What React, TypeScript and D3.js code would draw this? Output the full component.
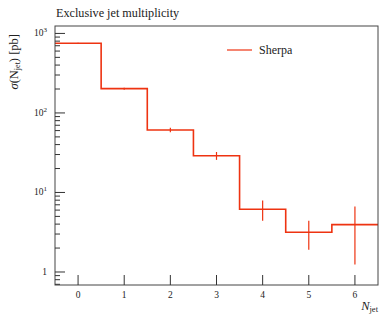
import React from "react";
import * as d3 from "d3";

const binCenters = [0, 1, 2, 3, 4, 5, 6];
const sigmaValues = [753, 202, 61, 29.0, 6.15, 3.16, 3.94];
const sigmaErrors = [12, 6, 4, 3.3, 1.75, 1.25, 2.7];
const xTicks = [0, 1, 2, 3, 4, 5, 6];
const yMajorTicks = [1, 10, 100, 1000];
const yMajorLabels = ["1", "10", "10", "10"];
const yMajorExps = ["", "1", "2", "3"];
const legendLabel = "Sherpa";
const titleText = "Exclusive jet multiplicity";

const W = 380;
const H = 317;
const m = { left: 55, right: 2, top: 26, bottom: 32 };
const FONT = "'Liberation Serif', 'DejaVu Serif', serif";
const RED = "#ee3311";

export default function App() {
  const x = d3.scaleLinear().domain([-0.5, 6.5]).range([m.left, W - m.right]);
  const y = d3.scaleLog().domain([0.686, 1240]).range([H - m.bottom, m.top]);

  const stepPts: [number, number][] = [];
  binCenters.forEach((c, i) => {
    stepPts.push([c - 0.5, sigmaValues[i]]);
    stepPts.push([c + 0.5, sigmaValues[i]]);
  });
  const line = d3
    .line<[number, number]>()
    .x((d) => x(d[0]))
    .y((d) => y(d[1]));

  const minorTicks: number[] = [];
  [0.1, 1, 10, 100].forEach((dec) => {
    for (let k = 2; k <= 9; k++) {
      const v = dec * k;
      if (v > y.domain()[0] && v < y.domain()[1] && !yMajorTicks.includes(v)) minorTicks.push(v);
    }
  });

  const bottom = H - m.bottom;

  return (
    <svg width={W} height={H} style={{ position: "absolute", left: 0, top: 0 }}>
      <rect x={0} y={0} width={W} height={H} fill="#fff" />
      <text x={56} y={17} fontFamily={FONT} fontSize={12.2} fill="#222">
        {titleText}
      </text>
      {/* data */}
      <path d={line(stepPts) || ""} fill="none" stroke={RED} strokeWidth={1.6} />
      {binCenters.map((c, i) => (
        <line
          key={"e" + i}
          x1={x(c)}
          x2={x(c)}
          y1={y(sigmaValues[i] + sigmaErrors[i])}
          y2={y(Math.max(sigmaValues[i] - sigmaErrors[i], 0.01))}
          stroke={RED}
          strokeWidth={1.2}
        />
      ))}
      {/* frame */}
      <rect
        x={m.left}
        y={m.top}
        width={W - m.right - m.left}
        height={bottom - m.top}
        fill="none"
        stroke="#444"
        strokeWidth={1}
      />
      {/* x ticks */}
      {xTicks.map((t) => (
        <g key={"x" + t}>
          <line x1={x(t)} x2={x(t)} y1={bottom} y2={bottom - 10} stroke="#333" strokeWidth={1} />
          <text x={x(t)} y={bottom + 13} textAnchor="middle" fontFamily={FONT} fontSize={9.5} fill="#222">
            {t}
          </text>
        </g>
      ))}
      {/* y ticks */}
      {yMajorTicks.map((t, i) => (
        <g key={"y" + t}>
          <line x1={m.left} x2={m.left + 10} y1={y(t)} y2={y(t)} stroke="#333" strokeWidth={1} />
          <text x={m.left - 8} y={y(t) + 3} textAnchor="end" fontFamily={FONT} fontSize={9.5} fill="#222">
            {yMajorLabels[i]}
            {yMajorExps[i] && (
              <tspan dy={-4} fontSize={7}>
                {yMajorExps[i]}
              </tspan>
            )}
          </text>
        </g>
      ))}
      {minorTicks.map((t) => (
        <line key={"m" + t} x1={m.left} x2={m.left + 5} y1={y(t)} y2={y(t)} stroke="#333" strokeWidth={1} />
      ))}
      {/* axis labels */}
      <text
        transform={`translate(18, ${m.top + 8}) rotate(-90)`}
        textAnchor="end"
        fontFamily={FONT}
        fontSize={12.5}
        fill="#222"
      >
        <tspan fontStyle="italic">σ</tspan>
        <tspan>(N</tspan>
        <tspan fontSize={8} dy={2}>jet</tspan>
        <tspan dy={-2}>) [pb]</tspan>
      </text>
      <text x={W - 2} y={H - 7} textAnchor="end" fontFamily={FONT} fontSize={12.5} fill="#222">
        <tspan fontStyle="italic">N</tspan>
        <tspan fontSize={8.5} dy={2}>jet</tspan>
      </text>
      {/* legend */}
      <line x1={227} x2={252} y1={50} y2={50} stroke={RED} strokeWidth={1.2} />
      <text x={259} y={54} fontFamily={FONT} fontSize={12} fill="#222">
        {legendLabel}
      </text>
    </svg>
  );
}
